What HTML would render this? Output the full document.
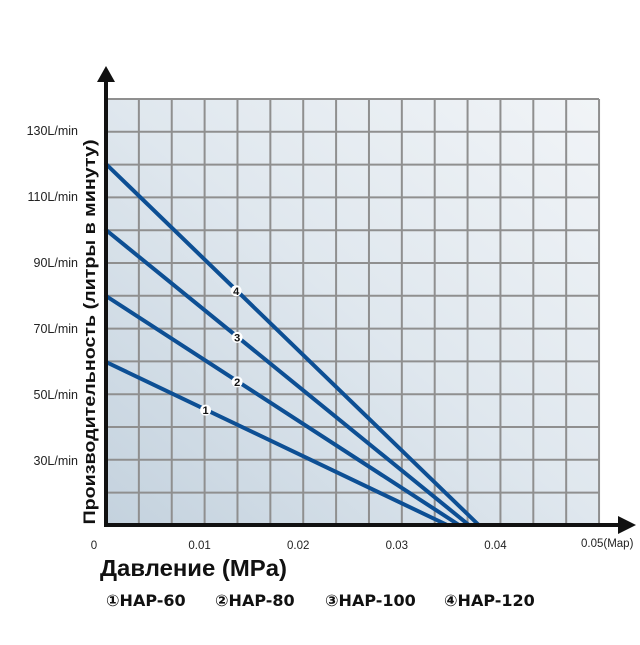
<!DOCTYPE html>
<html><head><meta charset="utf-8"><style>
body{margin:0;background:#fff;width:640px;height:640px;overflow:hidden;font-family:"Liberation Sans",sans-serif}
</style></head><body>
<svg id="chart" width="640" height="640" xmlns="http://www.w3.org/2000/svg">
<defs>
<linearGradient id="bg" x1="0" y1="1" x2="1" y2="0">
<stop offset="0" stop-color="#c4d2de"/><stop offset="0.5" stop-color="#dfe7ee"/><stop offset="1" stop-color="#f1f4f7"/>
</linearGradient>
</defs>
<rect x="106" y="99" width="493" height="426" fill="url(#bg)"/>
<g id="grid"></g>
<g id="series"></g>
<g id="ticks"></g>
<line x1="106" y1="527" x2="106" y2="80" stroke="#111" stroke-width="4"/>
<polygon points="97,82 115,82 106,66" fill="#111"/>
<line x1="104" y1="525" x2="620" y2="525" stroke="#111" stroke-width="4"/>
<polygon points="618,516 618,534 636,525" fill="#111"/>
<text transform="translate(95,332) rotate(-90)" text-anchor="middle" font-size="17" font-weight="bold" fill="#111" textLength="385" lengthAdjust="spacingAndGlyphs" font-family="Liberation Sans, DejaVu Sans, sans-serif">Производительность (литры в минуту)</text>
<text x="100" y="576" font-size="23" font-weight="bold" fill="#111" textLength="187" lengthAdjust="spacingAndGlyphs" font-family="Liberation Sans, DejaVu Sans, sans-serif">Давление (MPa)</text>
<g font-size="16" font-weight="bold" fill="#111" font-family="DejaVu Sans, Liberation Sans, sans-serif">
<text x="106" y="606">①HAP-60</text>
<text x="215" y="606">②HAP-80</text>
<text x="325" y="606">③HAP-100</text>
<text x="444" y="606">④HAP-120</text>
</g>
</svg>
<script>
const xTicks=[0,0.01,0.02,0.03,0.04];
const xTickLabels=["0","0.01","0.02","0.03","0.04"];
const yTicks=[30,50,70,90,110,130];
const yTickLabels=["30L/min","50L/min","70L/min","90L/min","110L/min","130L/min"];
const seriesNames=["1","2","3","4"];
const flowAtZero=[60,80,100,120];
const pressureAtAxis=[0.0346,0.0358,0.0368,0.0378];
const labelPressure=[0.0101,0.0133,0.0133,0.0132];

const NS="http://www.w3.org/2000/svg";
const X0=106,PX=9860;
const Y130=131,PY=3.3;
const FLOOR=10;
const xs=p=>X0+p*PX;
const ys=v=>Y130+(130-v)*PY;
function mk(tag,attrs,parent){const e=document.createElementNS(NS,tag);for(const k in attrs)e.setAttribute(k,attrs[k]);parent.appendChild(e);return e;}

const grid=document.getElementById('grid');
for(let i=0;i<=15;i++){
  const l=mk('line',{x1:X0+i*32.87,y1:99,x2:X0+i*32.87,y2:525,stroke:'#8f8f8f','stroke-width':2},grid);
  
  
}
for(let j=0;j<=13;j++){
  const y=99+j*32.8;
  const l=mk('line',{x1:106,y1:y,x2:599,y2:y,stroke:'#8f8f8f','stroke-width':2},grid);
  
  
}
const ticks=document.getElementById('ticks');
xTicks.forEach((t,i)=>{
  const tx=mk('text',{x:xs(t)-(i===0?12:5),y:549,'text-anchor':'middle','font-size':11.5,fill:'#222'},ticks);
  tx.textContent=xTickLabels[i];
  
  
});
const lx=mk('text',{x:581,y:547,'font-size':11.5,fill:'#222'},ticks);
lx.textContent="0.05(Map)";


yTicks.forEach((t,i)=>{
  const tx=mk('text',{x:78,y:ys(t)+4,'text-anchor':'end','font-size':12.5,fill:'#222'},ticks);
  tx.textContent=yTickLabels[i];
  
  
});
const ser=document.getElementById('series');
flowAtZero.forEach((f,i)=>{
  const l=mk('line',{x1:xs(0),y1:ys(f),x2:xs(pressureAtAxis[i]),y2:ys(FLOOR)-2,stroke:'#0d4f94','stroke-width':4,'stroke-linecap':'round'},ser);
  
  
  const p=labelPressure[i];
  const v=f+(FLOOR-f)*p/pressureAtAxis[i];
  const c=mk('circle',{cx:xs(p),cy:ys(v),r:5.5,fill:'#fff'},ser);
  
  
  const t=mk('text',{x:xs(p),y:ys(v)+4,'text-anchor':'middle','font-size':11,'font-weight':'bold',fill:'#111'},ser);
  t.textContent=seriesNames[i];
  
  
});
</script>
</body></html>
